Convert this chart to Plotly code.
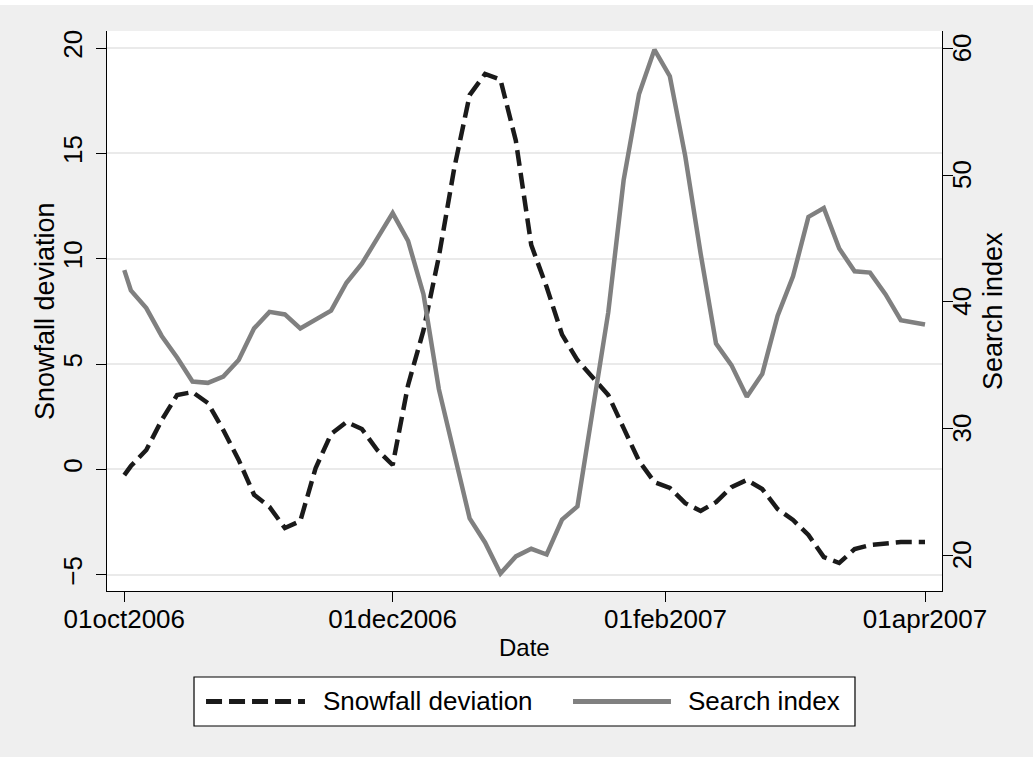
import pandas as pd
import plotly.graph_objects as go

# Observation dates: range start, half-weekly readings, range end
first_date = ["2006-10-01"]
half_weeks = [d.strftime("%Y-%m-%d %H:%M") for d in
              pd.date_range("2006-10-02 12:00", periods=51, freq="84h")]
last_date = ["2007-04-01"]
dates = first_date + half_weeks + last_date

snowfall_deviation = [
    -0.27, 0.16, 0.92, 2.34, 3.53, 3.67, 3.15, 1.87, 0.45, -1.20,
    -1.78, -2.78, -2.45, 0.07, 1.68, 2.25, 1.92, 0.92, 0.21, 4.00,
    6.60, 10.10, 14.30, 17.77, 18.77, 18.50, 15.60, 10.65, 8.66, 6.40,
    5.19, 4.39, 3.53, 1.96, 0.40, -0.60, -0.88, -1.60, -1.97, -1.55,
    -0.84, -0.50, -0.93, -1.88, -2.40, -3.11, -4.16, -4.44, -3.78, -3.59,
    -3.54, -3.45, -3.45,
]

search_index = [
    42.5, 40.9, 39.5, 37.3, 35.6, 33.7, 33.6, 34.1, 35.4, 37.9,
    39.2, 39.0, 37.9, 38.6, 39.3, 41.5, 43.0, 45.0, 47.0, 44.8,
    40.6, 33.1, 28.0, 22.9, 21.0, 18.55, 19.9, 20.5, 20.05, 22.8,
    23.85, 31.5, 39.15, 49.6, 56.4, 59.9, 57.8, 51.5, 43.8, 36.7,
    35.0, 32.5, 34.3, 38.9, 42.0, 46.7, 47.4, 44.2, 42.4, 42.3,
    40.6, 38.55, 38.2,
]

x_tick_vals = ["2006-10-01", "2006-12-01", "2007-02-01", "2007-04-01"]
x_tick_text = ["01oct2006", "01dec2006", "01feb2007", "01apr2007"]
left_ticks = [-5, 0, 5, 10, 15, 20]
right_ticks = [20, 30, 40, 50, 60]

FONT = "Liberation Sans, Arial, Helvetica, sans-serif"
BG = "#efefef"
DASH = "16px,7px"
TICK_SIZE = 26

fig = go.Figure()
fig.add_trace(go.Scatter(
    x=dates, y=snowfall_deviation, mode="lines", name="Snowfall deviation",
    line=dict(color="#1a1a1a", width=4.5, dash=DASH),
))
fig.add_trace(go.Scatter(
    x=dates, y=search_index, mode="lines", name="Search index", yaxis="y2",
    line=dict(color="#808080", width=4.5),
))

fig.update_layout(
    template="none",
    width=1033, height=757,
    margin=dict(l=107, r=91, t=31, b=166),
    paper_bgcolor=BG, plot_bgcolor="white",
    showlegend=False,
    font=dict(family=FONT, color="black", size=24),
    xaxis=dict(
        type="date",
        range=["2006-09-27 01:40", "2007-04-04 20:40"],
        tickvals=x_tick_vals, ticktext=x_tick_text,
        showgrid=False, zeroline=False, automargin=False,
        showline=True, linecolor="black", linewidth=1.2,
        ticks="outside", ticklen=10, tickcolor="black", tickwidth=1.2,
        ticklabelstandoff=-5,
        tickfont=dict(size=TICK_SIZE),
    ),
    yaxis=dict(
        range=[-5.77, 20.81],
        tickvals=left_ticks, tickangle=-90,
        showgrid=True, gridcolor="#eaeaea", gridwidth=1.5,
        zeroline=False, automargin=False,
        showline=True, linecolor="black", linewidth=1.2,
        ticks="outside", ticklen=10, tickcolor="black", tickwidth=1.2,
        ticklabelstandoff=4,
        tickfont=dict(size=TICK_SIZE),
    ),
    yaxis2=dict(
        range=[17.17, 61.37], overlaying="y", side="right",
        tickvals=right_ticks, showticklabels=False,
        showgrid=False, zeroline=False, automargin=False,
        showline=True, linecolor="black", linewidth=1.2,
        ticks="outside", ticklen=10, tickcolor="black", tickwidth=1.2,
    ),
)

# Right-axis tick labels, rotated, placed on the search-index scale
for v in right_ticks:
    fig.add_annotation(text=str(v), xref="paper", yref="y2", x=1, y=v,
                       xshift=20, showarrow=False, textangle=-90,
                       xanchor="center", yanchor="middle",
                       font=dict(size=TICK_SIZE))

# Axis titles
fig.add_annotation(text="Date", xref="paper", yref="paper", x=0.5, y=0,
                   yshift=-56, showarrow=False, xanchor="center", yanchor="middle",
                   font=dict(size=24))
fig.add_annotation(text="Snowfall deviation", xref="paper", yref="paper", x=0, y=0.5,
                   xshift=-62, showarrow=False, textangle=-90,
                   xanchor="center", yanchor="middle", font=dict(size=27))
fig.add_annotation(text="Search index", xref="paper", yref="paper", x=1, y=0.5,
                   xshift=51, showarrow=False, textangle=-90,
                   xanchor="center", yanchor="middle", font=dict(size=27))

# Thin white band along the top edge
fig.add_shape(type="rect", xref="paper", yref="paper", x0=-0.2, x1=1.2,
              y0=1.0464, y1=1.08, fillcolor="white", line=dict(width=0), layer="below")

# Legend box drawn below the axis title
fig.add_shape(type="rect", xref="paper", yref="paper", x0=0.1042, x1=0.8958,
              y0=-0.2411, y1=-0.1536, fillcolor="white",
              line=dict(color="black", width=1.2))
fig.add_shape(type="line", xref="paper", yref="paper", x0=0.1186, x1=0.2371,
              y0=-0.1973, y1=-0.1973, line=dict(color="#1a1a1a", width=5, dash=DASH))
fig.add_shape(type="line", xref="paper", yref="paper", x0=0.5581, x1=0.6754,
              y0=-0.1973, y1=-0.1973, line=dict(color="#808080", width=5))
fig.add_annotation(text="Snowfall deviation", xref="paper", yref="paper",
                   x=0.2563, y=-0.1973, xanchor="left", yanchor="middle",
                   showarrow=False, font=dict(size=26))
fig.add_annotation(text="Search index", xref="paper", yref="paper",
                   x=0.6934, y=-0.1973, xanchor="left", yanchor="middle",
                   showarrow=False, font=dict(size=26))

fig.write_html("out.html")
